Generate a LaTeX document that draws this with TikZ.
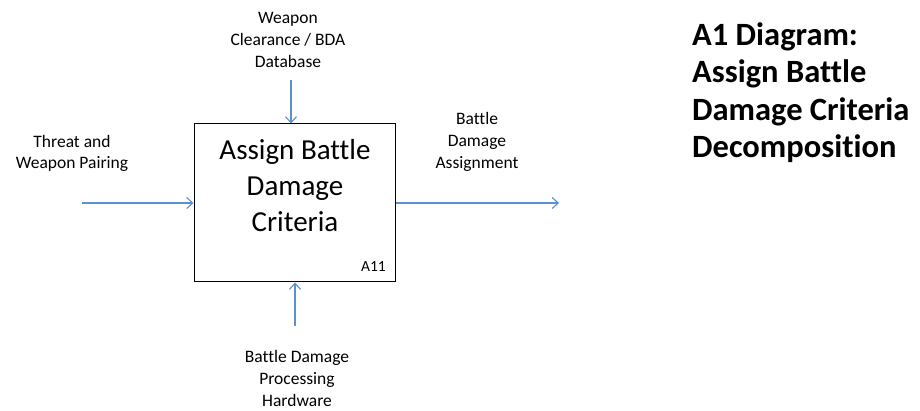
\documentclass[tikz,border=0pt]{standalone}
\usepackage{fontspec}
\setmainfont[Ligatures=CommonOff]{Carlito}
\usetikzlibrary{arrows.meta}
\definecolor{arrowblue}{RGB}{91,145,210}
\tikzset{
  conn/.style={draw=arrowblue, line width=1.1pt, -{Straight Barb[length=6pt,width=11pt]}},
  lbl/.style={align=center, inner sep=0pt, font=\fontsize{17.5}{21.8}\selectfont},
  boxnode/.style={draw=black, line width=1pt, minimum width=201pt, minimum height=158pt, inner sep=0pt},
  boxtext/.style={align=center, inner sep=0pt, font=\fontsize{29}{36}\selectfont},
  titletext/.style={align=left, inner sep=0pt, anchor=west, font=\fontsize{32.5}{37.5}\selectfont\bfseries}
}
\begin{document}
\begin{tikzpicture}[x=1pt,y=-1pt]
\useasboundingbox (0,0) rectangle (920,411);
\node[boxnode] (A) at (294.5,203) {};
\node[boxtext] (Atext) at (295,186) {Assign Battle\\Damage\\Criteria};
\node[inner sep=0pt, anchor=base east, font=\fontsize{15.5}{18}\selectfont] (Aid) at (386,272) {A11};

\node[lbl] (ltop) at (288,40) {Weapon\\Clearance / BDA\\Database};
\node[lbl] (lleft) at (72,153.5) {Threat and\\Weapon Pairing};
\node[lbl] (lright) at (477,142) {Battle\\Damage\\Assignment};
\node[lbl] (lbot) at (297,378.5) {Battle Damage\\Processing\\Hardware};

\node[titletext] (title) at (692,92.5) {A1 Diagram:\\Assign Battle\\Damage Criteria\\Decomposition};

\coordinate (ctop) at (291,80);
\coordinate (cleft) at (82,203);
\coordinate (cright) at (559,203);
\coordinate (cbot) at (295,326);

\draw[conn] (ctop) -- (ctop |- A.north);
\draw[conn] (cleft) -- (A.west);
\draw[conn] (A.east) -- (cright);
\draw[conn] (cbot) -- (cbot |- A.south);
\end{tikzpicture}
\end{document}
